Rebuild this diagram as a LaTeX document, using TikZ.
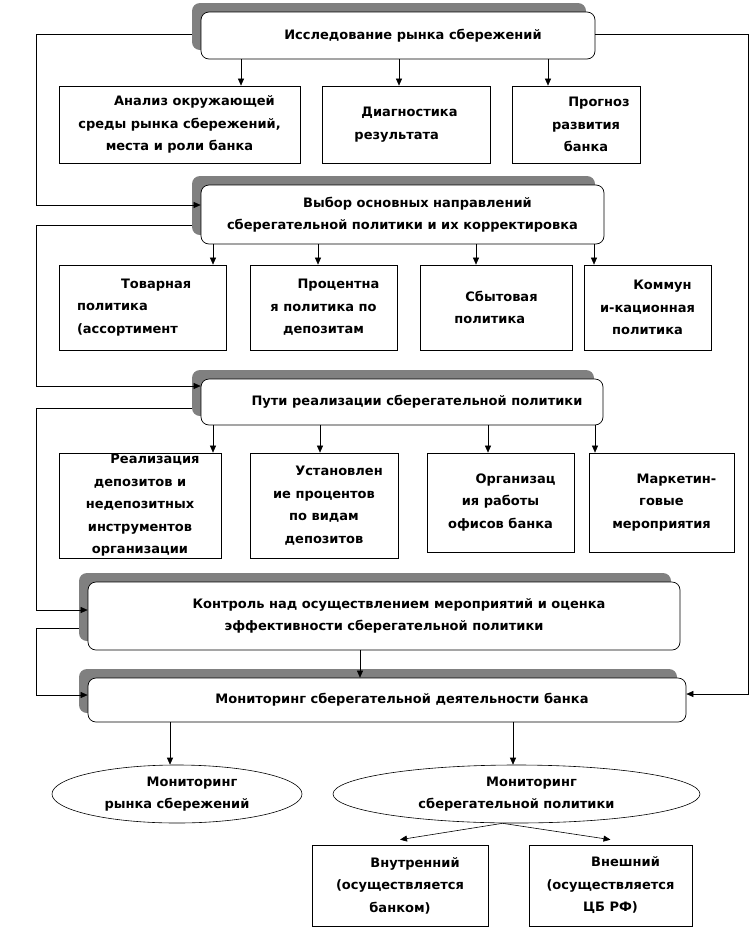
\documentclass[tikz,border=0pt]{standalone}
\usepackage{fontspec}
\setmainfont{DejaVu Sans}
\usetikzlibrary{arrows.meta,shapes.geometric,shadows}
\definecolor{shadegray}{HTML}{808080}
\newcommand\FL{\hspace*{30pt}}
\begin{document}
\begin{tikzpicture}[x=1pt,y=-1pt,
  every node/.style={font=\bfseries\fontsize{13}{22.5}\selectfont, align=center, inner sep=2pt},
  rbox/.style={draw=black, line width=0.7pt, fill=white, rounded corners=8pt,
    copy shadow={shadow xshift=-9pt, shadow yshift=9pt, fill=shadegray, draw=none}},
  pbox/.style={draw=black, line width=0.7pt, fill=white},
  ell/.style={draw=black, line width=0.6pt, ellipse, inner sep=0pt},
  arr/.style={-{Triangle[length=7pt,width=6pt]}, line width=0.6pt},
  ln/.style={line width=0.6pt}]
\useasboundingbox (0,0) rectangle (751,943);
% level 1
\node[rbox, minimum width=394pt, minimum height=47pt] (r1) at (398,35.5) {\FL Исследование рынка сбережений};
\node[pbox, minimum width=241pt, minimum height=77pt] (a1) at (179.5,124.5) {\FL Анализ окружающей\\среды рынка сбережений,\\места и роли банка};
\node[pbox, minimum width=168pt, minimum height=77pt, align=left] (a2) at (406,124.5) {\hspace*{7pt}Диагностика\\результата};
\node[pbox, minimum width=128pt, minimum height=77pt] (a3) at (576,124.5) {\hspace*{46pt}Прогноз\\\hspace*{20pt}развития\\\hspace*{20pt}банка};
% level 2
\node[rbox, minimum width=403pt, minimum height=59pt] (r2) at (402.5,214.5) {\FL Выбор основных направлений\\сберегательной политики и их корректировка};
\node[pbox, minimum width=167pt, minimum height=85pt, align=left] (b1) at (142.5,307.5) {\hspace*{44pt}Товарная\\политика\\(ассортимент\hspace*{30pt}};
\node[pbox, minimum width=147pt, minimum height=85pt] (b2) at (323.5,307.5) {\FL Процентна\\я политика по\\депозитам};
\node[pbox, minimum width=152pt, minimum height=85pt, align=left] (b3) at (496,307.5) {\hspace*{11pt}Сбытовая\\политика};
\node[pbox, minimum width=127pt, minimum height=85pt] (b4) at (647.5,307.5) {\FL Коммун\\и-кационная\\политика};
% level 3
\node[rbox, minimum width=402pt, minimum height=46pt] (r3) at (402,402) {\FL Пути реализации сберегательной политики};
\node[pbox, minimum width=162pt, minimum height=105pt, inner sep=1pt] (c1) at (140,505.5) {\FL Реализация\\депозитов и\\недепозитных\\инструментов\\организации};
\node[pbox, minimum width=148pt, minimum height=105pt, inner sep=1pt] (c2) at (324,505.5) {\FL Установлен\\ие процентов\\по видам\\депозитов};
\node[pbox, minimum width=147pt, minimum height=99pt] (c3) at (500.5,502.5) {\FL Организац\\ия работы\\офисов банка};
\node[pbox, minimum width=145pt, minimum height=99pt] (c4) at (661.5,502.5) {\FL Маркетин-\\говые\\мероприятия};
% control & monitoring
\node[rbox, minimum width=592pt, minimum height=68pt] (ctl) at (384,616) {\FL Контроль над осуществлением мероприятий и оценка\\эффективности сберегательной политики};
\node[rbox, minimum width=598pt, minimum height=44pt] (mon) at (387,700) {\FL Мониторинг сберегательной деятельности банка};
\node[ell, minimum width=250pt, minimum height=58pt,
  label={center:{\FL Мониторинг\\рынка сбережений}}] (e1) at (177,794) {};
\node[ell, minimum width=367pt, minimum height=58pt,
  label={center:{\FL Мониторинг\\сберегательной политики}}] (e2) at (516.5,794) {};
\node[pbox, minimum width=176pt, minimum height=81pt] (d1) at (400,885.5) {\FL Внутренний\\(осуществляется\\банком)};
\node[pbox, minimum width=163pt, minimum height=81pt] (d2) at (610.5,885.5) {\FL Внешний\\(осуществляется\\ЦБ РФ)};
% feedback loops
\draw[arr] ([xshift=-9pt,yshift=1.5pt]r1.west) -- ++(-155,0) |- ([yshift=9.5pt]r2.west);
\draw[arr] ([xshift=-9pt,yshift=-10.5pt]r2.west) -- ++(-155,0) |- ([yshift=16pt]r3.west);
\draw[arr] ([xshift=-9pt,yshift=-6pt]r3.west) -- ++(-155,0) |- ([yshift=6pt]ctl.west);
\draw[arr] ([xshift=-9pt,yshift=-12pt]ctl.west) -- ++(-42,0) |- ([yshift=5pt]mon.west);
\draw[arr] ([yshift=1.5pt]r1.east) -- ++(153,0) |- ([yshift=6pt]mon.east);
% down arrows
\foreach \x/\t in {241/a1,399/a2,548/a3} \draw[arr] (r1.south -| \x,0) -- (\t.north -| \x,0);
\foreach \x/\t in {213/b1,318/b2,476/b3,594/b4} \draw[arr] (r2.south -| \x,0) -- (\t.north -| \x,0);
\foreach \x/\t in {213/c1,320/c2,488/c3,595/c4} \draw[arr] (r3.south -| \x,0) -- (\t.north -| \x,0);
\draw[arr] (ctl.south -| 360,0) -- (mon.north -| 360,0);
\draw[arr] (mon.south -| 170,0) -- (e1.north -| 170,0);
\draw[arr] (mon.south -| 513,0) -- (e2.north -| 513,0);
\draw[arr] ([xshift=-14pt]e2.south) -- ([yshift=5pt]d1.north);
\draw[arr] ([xshift=-14pt]e2.south) -- ([yshift=5pt]d2.north);
\end{tikzpicture}
\end{document}
